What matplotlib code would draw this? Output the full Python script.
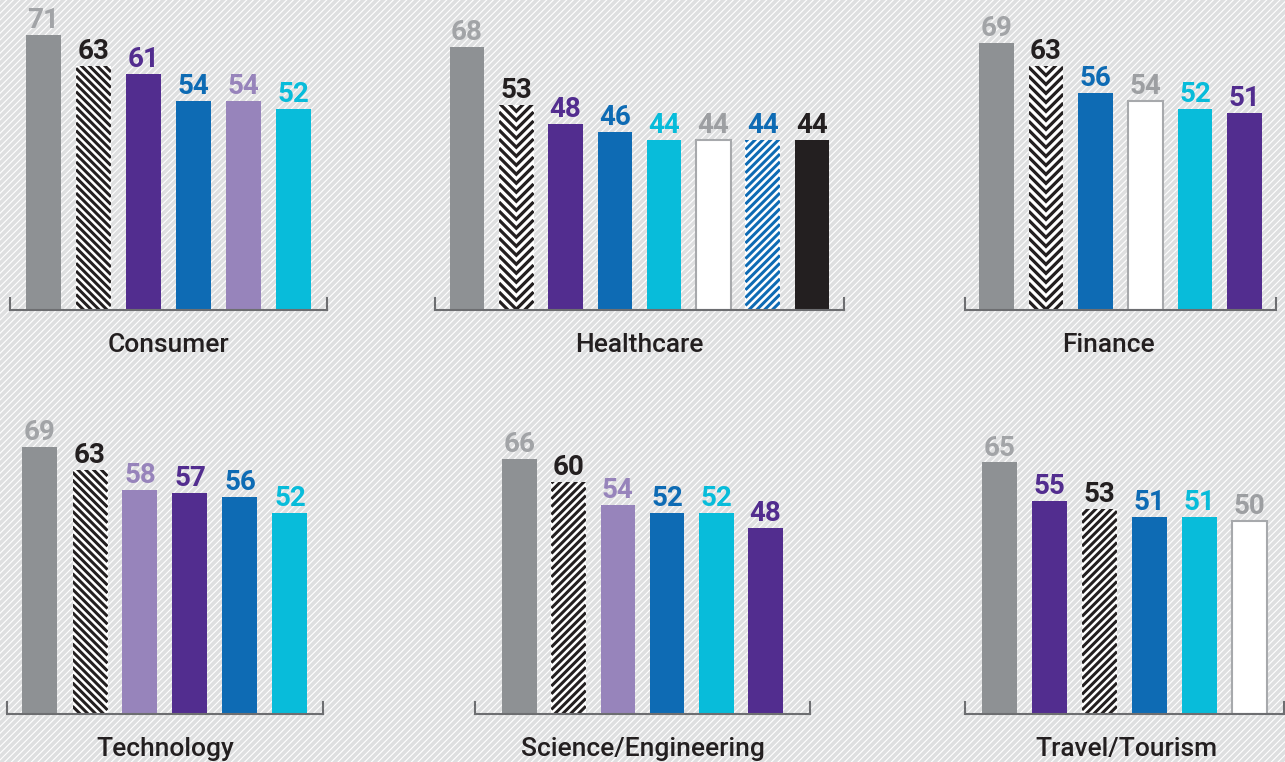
import matplotlib
matplotlib.use('Agg')
import matplotlib.pyplot as plt
import numpy as np
from matplotlib.collections import LineCollection
from matplotlib.patches import Rectangle

plt.rcParams['font.family'] = ['Roboto', 'DejaVu Sans']
plt.rcParams['hatch.linewidth'] = 0.8
plt.rcParams['hatch.color'] = 'white'

# Values per panel
panel_names = ['Consumer', 'Healthcare', 'Finance',
               'Technology', 'Science/Engineering', 'Travel/Tourism']

consumer_vals = [71, 63, 61, 54, 54, 52]
healthcare_vals = [68, 53, 48, 46, 44, 44, 44, 44]
finance_vals = [69, 63, 56, 54, 52, 51]
technology_vals = [69, 63, 58, 57, 56, 52]
science_vals = [66, 60, 54, 52, 52, 48]
travel_vals = [65, 55, 53, 51, 51, 50]

# style key of each bar, in the order drawn
consumer_keys = ['gray', 'stripe_back', 'purple', 'blue', 'lavender', 'cyan']
healthcare_keys = ['gray', 'chevron', 'purple', 'blue', 'cyan', 'white',
                   'blue_stripe', 'black']
finance_keys = ['gray', 'chevron', 'blue', 'white', 'cyan', 'purple']
technology_keys = ['gray', 'stripe_back', 'lavender', 'purple', 'blue', 'cyan']
science_keys = ['gray', 'stripe_fwd', 'lavender', 'blue', 'cyan', 'purple']
travel_keys = ['gray', 'purple', 'stripe_fwd', 'blue', 'cyan', 'white']

panel_vals = [consumer_vals, healthcare_vals, finance_vals,
              technology_vals, science_vals, travel_vals]
panel_keys = [consumer_keys, healthcare_keys, finance_keys,
              technology_keys, science_keys, travel_keys]

INK = '#231f20'
# key -> (face, edge, pattern, pattern colour, label colour)
styles = {
    'gray': ('#8e9194', 'none', None, None, '#a2a4a7'),
    'purple': ('#522d8f', 'none', None, None, '#522d8f'),
    'blue': ('#0e6bb4', 'none', None, None, '#0e6bb4'),
    'lavender': ('#9784bb', 'none', None, None, '#9784bb'),
    'cyan': ('#08bcda', 'none', None, None, '#08bcda'),
    'black': (INK, 'none', None, None, INK),
    'white': ('white', '#a7a9ac', None, None, '#9d9fa2'),
    'stripe_back': ('white', 'none', 'back', INK, INK),
    'stripe_fwd': ('white', 'none', 'fwd', INK, INK),
    'chevron': ('white', 'none', 'chevron', INK, INK),
    'blue_stripe': ('white', 'none', 'fwd', '#0e6bb4', '#0e6bb4'),
}

# layout in pixels: axis line left, right, baseline, side margin (bar units),
# horizontal shift of the panel name
W, H = 1285, 762
layout = [
    (10, 327, 310, 0.67, 0),
    (435, 844, 310, 0.65, 0),
    (965, 1276, 310, 0.63, -12),
    (7, 323, 714, 0.66, 0),
    (475, 810, 714, 0.90, 0),
    (965, 1284, 714, 0.69, 2),
]
AX_H = 300
PX_PER_UNIT = 3.87


def add_pattern(ax, bar, kind, color, period, lw_px):
    inv = ax.transData.inverted()
    (x0, y0), (x1, y1) = ax.transData.transform(
        [(bar.get_x(), 0), (bar.get_x() + bar.get_width(), bar.get_height())])
    w, h = x1 - x0, y1 - y0
    segs = []
    if kind == 'fwd':
        for c in np.arange(-w, h + period, period):
            segs.append([(x0, y0 + c), (x1, y0 + c + w)])
    elif kind == 'back':
        for c in np.arange(0, h + w + period, period):
            segs.append([(x0, y0 + c), (x1, y0 + c - w)])
    else:
        xm = (x0 + x1) / 2
        for c in np.arange(-w / 2, h + period, period):
            segs.append([(x0, y0 + c + w / 2), (xm, y0 + c),
                         (x1, y0 + c + w / 2)])
    lc = LineCollection([inv.transform(s) for s in segs], colors=color,
                        linewidths=lw_px * 0.72, capstyle='butt',
                        joinstyle='miter')
    ax.add_collection(lc)
    lc.set_clip_path(bar)


fig = plt.figure(figsize=(12.85, 7.62), dpi=100)
fig.add_artist(Rectangle((0, 0), 1, 1, transform=fig.transFigure,
                         facecolor='#dedfe0', edgecolor='white', lw=0,
                         hatch='/////', zorder=-5))

for name, vals, keys, (left, right, base, m, dx) in zip(
        panel_names, panel_vals, panel_keys, layout):
    ax = fig.add_axes([left / W, 1 - base / H, (right - left) / W, AX_H / H])
    ax.set_facecolor('none')
    n = len(vals)
    x = np.arange(n)
    ax.set_xlim(-m, n - 1 + m)
    ax.set_ylim(0, AX_H / PX_PER_UNIT)

    bars = ax.bar(x, vals, width=0.7, zorder=2)
    for bar, v, k in zip(bars, vals, keys):
        face, edge, pattern, pcol, lcol = styles[k]
        bar.set_facecolor(face)
        bar.set_edgecolor(edge)
        bar.set_linewidth(1.5 if edge != 'none' else 0)
        if pattern == 'chevron':
            add_pattern(ax, bar, pattern, pcol, 9.0, 3.2)
        elif pattern:
            add_pattern(ax, bar, pattern, pcol, 7.8, 3.0)
        ax.annotate(str(v), xy=(bar.get_x() + bar.get_width() / 2, v),
                    xytext=(0, 5), textcoords='offset points',
                    ha='center', va='baseline', fontsize=20,
                    fontweight='bold', color=lcol)

    for s in ['top', 'left', 'right']:
        ax.spines[s].set_visible(False)
    ax.spines['bottom'].set_color('#6d6e71')
    ax.spines['bottom'].set_linewidth(1.5)
    for xe in (0, 1):
        ax.plot([xe, xe], [0, 12 / AX_H], transform=ax.transAxes,
                color='#6d6e71', lw=1.5, clip_on=False)
    ax.set_xticks([])
    ax.set_yticks([])
    ax.annotate(name, xy=(0.5, 0), xycoords='axes fraction',
                xytext=(dx * 0.72, -30.5), textcoords='offset points',
                ha='center', va='baseline', fontsize=19,
                fontweight='medium', color=INK)

fig.savefig('out.png', dpi=100)
